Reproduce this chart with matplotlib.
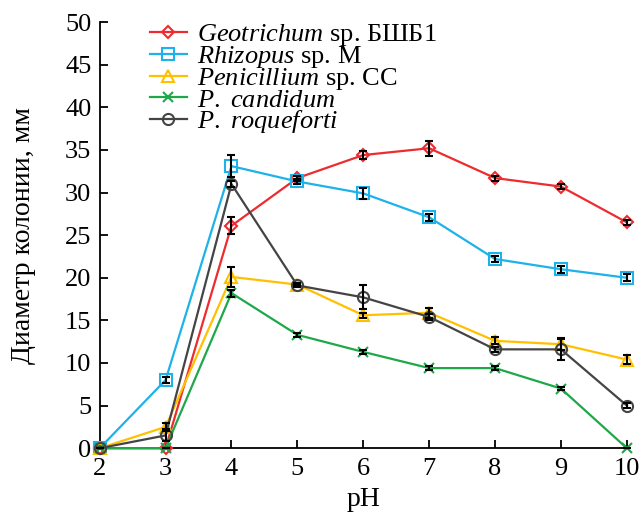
import numpy as np
import matplotlib
matplotlib.use('Agg')
import matplotlib.pyplot as plt

plt.rcParams['font.family'] = ['Liberation Serif', 'DejaVu Serif']
plt.rcParams['mathtext.fontset'] = 'custom'
plt.rcParams['mathtext.rm'] = 'Liberation Serif'
plt.rcParams['mathtext.it'] = 'Liberation Serif:italic'

ph = [2, 3, 4, 5, 6, 7, 8, 9, 10]

geotrichum = [0, 0, 26.1, 31.7, 34.4, 35.2, 31.7, 30.7, 26.5]
geotrichum_err = [0, 0, 1.0, 0.3, 0.5, 0.9, 0.3, 0.3, 0.3]
rhizopus = [0, 8.0, 33.1, 31.3, 29.9, 27.1, 22.2, 21.0, 20.0]
rhizopus_err = [0, 0.3, 1.3, 0.3, 0.6, 0.4, 0.4, 0.4, 0.4]
penicillium = [0, 2.5, 20.1, 19.2, 15.6, 15.9, 12.6, 12.2, 10.4]
penicillium_err = [0, 0.5, 1.2, 0.2, 0.3, 0.6, 0.4, 0.7, 0.5]
candidum = [0, 0, 18.2, 13.3, 11.3, 9.4, 9.4, 7.0, 0]
candidum_err = [0, 0, 0.4, 0.2, 0.2, 0.2, 0.2, 0.2, 0]
roqueforti = [0, 1.5, 31.0, 19.1, 17.7, 15.4, 11.6, 11.6, 5.0]
roqueforti_err = [0, 0.7, 0.3, 0.2, 1.4, 0.3, 0.3, 1.2, 0.3]

labels = [r'$\mathit{Geotrichum}$ sp. БШБ1',
          r'$\mathit{Rhizopus}$ sp. М',
          r'$\mathit{Penicillium}$ sp. СС',
          r'$\mathit{P.}$ $\mathit{candidum}$',
          r'$\mathit{P.}$ $\mathit{roqueforti}$']

fig = plt.figure(figsize=(6.39, 5.14), dpi=100)
ax = fig.add_axes([0.156, 0.128, 0.825, 0.829])

series = [
    (geotrichum, geotrichum_err, '#ee2b2e', 'D', 6),
    (rhizopus, rhizopus_err, '#1db3ea', 's', 8),
    (penicillium, penicillium_err, '#ffc000', '^', 8),
    (candidum, candidum_err, '#1ea84a', 'x', 7),
    (roqueforti, roqueforti_err, '#444444', 'o', 8),
]

for (vals, err, col, mk, ms), lab in zip(series, labels):
    ax.plot(ph, vals, color=col, marker=mk, markersize=ms, markerfacecolor='none',
            markeredgewidth=1.5, linewidth=1.6, label=lab, clip_on=False, zorder=3)
    ax.errorbar(ph, vals, yerr=err, fmt='none', ecolor='black', elinewidth=1.5,
                capsize=3, capthick=1.5, clip_on=False, zorder=4)

ax.set_xlim(2, 10)
ax.set_ylim(0, 50)
ax.set_xticks(ph)
ax.set_yticks(np.arange(0, 51, 5))
ax.spines['top'].set_visible(False)
ax.spines['right'].set_visible(False)
ax.spines['left'].set_linewidth(1.3)
ax.spines['bottom'].set_linewidth(1.3)
ax.tick_params(direction='in', length=6, width=1.3, labelsize=19)
ax.tick_params(axis='x', pad=7)
ax.tick_params(axis='y', pad=6)

ax.set_xlabel('pH', fontsize=20, labelpad=5)
ax.set_ylabel('Диаметр колонии, мм', fontsize=20)
ax.yaxis.set_label_coords(-0.12, 0.5)

ax.legend(loc='upper left', bbox_to_anchor=(0.095, 1.0), frameon=False,
          fontsize=19, handlelength=1.4, labelspacing=-0.15, handletextpad=0.4,
          borderaxespad=0, borderpad=0)

fig.savefig('out.png', dpi=100)
